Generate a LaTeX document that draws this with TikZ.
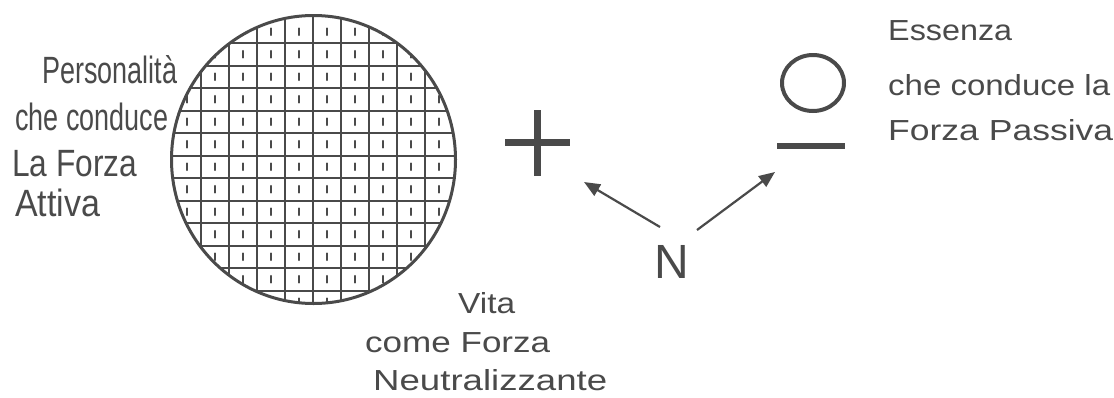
\documentclass[tikz,border=0pt]{standalone}
\usepackage{fontspec}
\setmainfont{Liberation Sans}
\usepackage{graphicx}
\usetikzlibrary{arrows.meta}
\definecolor{pencil}{HTML}{4A4A4A}
\newcommand\hwfit[2]{\resizebox{#1}{\height}{#2}}
\begin{document}
\begin{tikzpicture}[x=1pt,y=-1pt,
  hw/.style={anchor=base west, inner sep=0pt, text=pencil},
  bigtxt/.style={hw, font=\fontsize{38}{38}\selectfont},
  midtxt/.style={hw, font=\fontsize{29}{29}\selectfont},
  gridline/.style={draw=pencil, line width=2pt},
  celltick/.style={draw=pencil, line width=2.4pt, line cap=round},
  rim/.style={draw=pencil, line width=3pt},
  heavy/.style={draw=pencil, line width=7pt},
  conn/.style={draw=pencil, line width=2.2pt, -{Triangle[length=16pt,width=13pt]}},
]
\useasboundingbox (0,0) rectangle (1114,397);
% hatched circle
\coordinate (c) at (313.5,159.5);
\begin{scope}
  \clip (c) ellipse[x radius=142pt, y radius=144pt];
  \foreach \k in {-4,...,4} \draw[gridline] (313+28*\k,0) -- (313+28*\k,320);
  \foreach \k in {0,...,11} \draw[gridline] (150,43+22.5*\k) -- (480,43+22.5*\k);
  \foreach \i in {-5,...,4} \foreach \j in {0,...,12}
    \draw[celltick] (327+28*\i, 28.5+22.5*\j) -- ++(0,6.5);
\end{scope}
\draw[rim] (c) ellipse[x radius=142pt, y radius=144pt];
% plus
\coordinate (plus) at (537,142);
\draw[heavy] ([xshift=-32pt]plus) -- ([xshift=33pt]plus);
\draw[heavy] ([yshift=32pt]plus) -- ([yshift=-34pt]plus);
% O and bar
\coordinate (zero) at (813,83);
\draw[draw=pencil, line width=4pt] (zero) ellipse[x radius=31pt, y radius=28pt];
\draw[draw=pencil, line width=6pt] (777,146) -- (845,146);
% N and arrows
\node[hw, anchor=center, font=\fontsize{48}{48}\selectfont] (n) at (672,262) {N};
\coordinate (ls) at (660,227);
\coordinate (lt) at (584,182);
\coordinate (rs) at (697,230);
\coordinate (rt) at (775,172);
\draw[conn] (ls) -- (lt);
\draw[conn] (rs) -- (rt);
% left texts
\node[bigtxt] (l1) at (42,83) {\hwfit{135pt}{Personalità}};
\node[bigtxt] (l2) at (15,130) {\hwfit{153pt}{che conduce}};
\node[bigtxt] (l3) at (12,176) {\hwfit{125pt}{La Forza}};
\node[bigtxt] (l4) at (15,216) {\hwfit{85pt}{Attiva}};
% right texts
\node[midtxt] (r1) at (888,40) {\hwfit{124pt}{Essenza}};
\node[midtxt] (r2) at (888,95) {\hwfit{222pt}{che conduce la}};
\node[midtxt] (r3) at (888,140) {\hwfit{225pt}{Forza Passiva}};
% bottom texts
\node[midtxt] (b1) at (458,313) {\hwfit{57pt}{Vita}};
\node[midtxt] (b2) at (365,352) {\hwfit{185pt}{come Forza}};
\node[midtxt] (b3) at (373,390) {\hwfit{234pt}{Neutralizzante}};
\end{tikzpicture}
\end{document}
